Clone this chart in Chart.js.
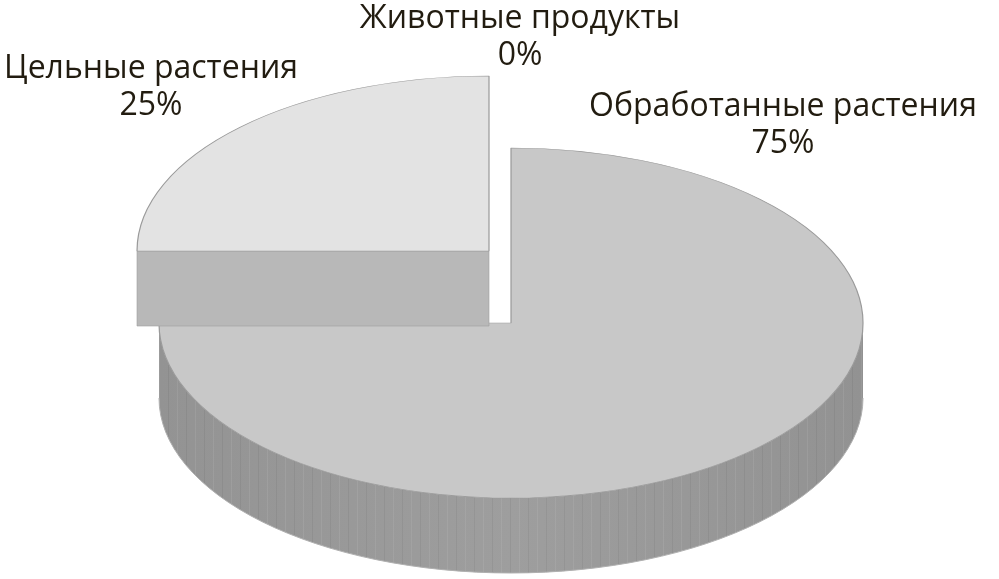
<!DOCTYPE html>
<html lang="ru">
<head>
  <meta charset="UTF-8" />
  <title>Pie 3D</title>
  <script src="https://cdn.jsdelivr.net/npm/chart.js"></script>
  <style>
    body { margin: 0; background: #fff; }
    canvas { display: block; }
  </style>
</head>
<body>
  <canvas id="pieChart" width="999" height="579"></canvas>
  <script>
    // данные
    const labels = ['Животные продукты', 'Обработанные растения', 'Цельные растения'];
    const values = [0, 75, 25];
    const topColors = ['#d0d0d0', '#c8c8c8', '#e3e3e3'];
    const sideColors = ['#a8a8a8', '#9a9a9a', '#b8b8b8'];

    // геометрия "3D" пирога (на экране)
    const geo = { cx: 511, cy: 323, rx: 352, ry: 175, depth: 75 };
    const explode = [[0, 0], [0, 0], [-22, -72]];
    const labelPos = [[520, 28], [783, 116], [151, 78]];
    const lineGap = 37;

    function pt(cx, cy, th) {
      return [cx + geo.rx * Math.cos(th), cy + geo.ry * Math.sin(th)];
    }

    function drawFace(ctx, cx, cy, th, color) {
      const [px, py] = pt(cx, cy, th);
      ctx.beginPath();
      ctx.moveTo(cx, cy);
      ctx.lineTo(px, py);
      ctx.lineTo(px, py + geo.depth);
      ctx.lineTo(cx, cy + geo.depth);
      ctx.closePath();
      ctx.fillStyle = color;
      ctx.fill();
      ctx.strokeStyle = '#a0a0a0';
      ctx.lineWidth = 0.6;
      ctx.stroke();
    }

    function drawWall(ctx, cx, cy, lo, hi) {
      const g = ctx.createLinearGradient(cx - geo.rx, 0, cx + geo.rx, 0);
      g.addColorStop(0, '#939393');
      g.addColorStop(0.5, '#9e9e9e');
      g.addColorStop(1, '#929292');
      ctx.beginPath();
      ctx.ellipse(cx, cy, geo.rx, geo.ry, 0, lo, hi);
      ctx.ellipse(cx, cy + geo.depth, geo.rx, geo.ry, 0, hi, lo, true);
      ctx.closePath();
      ctx.fillStyle = g;
      ctx.fill();
      // лёгкая вертикальная штриховка
      ctx.save();
      ctx.clip();
      ctx.lineWidth = 1;
      for (let x = cx - geo.rx; x < cx + geo.rx; x += 9) {
        ctx.strokeStyle = (Math.round(x) % 2) ? 'rgba(255,255,255,0.08)' : 'rgba(0,0,0,0.05)';
        ctx.beginPath();
        ctx.moveTo(Math.round(x) + 0.5, cy);
        ctx.lineTo(Math.round(x) + 0.5, cy + geo.ry + geo.depth);
        ctx.stroke();
      }
      ctx.restore();
      ctx.beginPath();
      ctx.ellipse(cx, cy + geo.depth, geo.rx, geo.ry, 0, lo, hi);
      ctx.strokeStyle = '#b0b0b0';
      ctx.lineWidth = 1;
      ctx.stroke();
    }

    const pie3d = {
      id: 'pie3d',
      beforeDatasetsDraw(chart) {
        const ctx = chart.ctx;
        const arcs = chart.getDatasetMeta(0).data;
        const order = arcs.map((a, i) => i)
          .sort((i, j) => (explode[i][1] !== 0) - (explode[j][1] !== 0));
        order.forEach(i => {
          const arc = arcs[i];
          const p = arc.getProps(['x', 'y', 'startAngle', 'endAngle', 'outerRadius']);
          if (p.endAngle - p.startAngle <= 0) return;
          const cx = geo.cx + explode[i][0];
          const cy = geo.cy + explode[i][1];
          // боковая стенка (передняя половина)
          for (let k = -1; k <= 1; k++) {
            const lo = Math.max(p.startAngle, 2 * Math.PI * k);
            const hi = Math.min(p.endAngle, 2 * Math.PI * k + Math.PI);
            if (hi > lo) drawWall(ctx, cx, cy, lo, hi);
          }
          // срезы
          if (Math.cos(p.startAngle) < -1e-6) drawFace(ctx, cx, cy, p.startAngle, sideColors[i]);
          if (Math.cos(p.endAngle) > 1e-6) drawFace(ctx, cx, cy, p.endAngle, sideColors[i]);
          // верх сектора
          ctx.save();
          ctx.translate(cx, cy);
          ctx.scale(geo.rx / p.outerRadius, geo.ry / p.outerRadius);
          ctx.translate(-p.x, -p.y);
          arc.draw(ctx);
          ctx.restore();
        });
        return false;
      },
      afterDraw(chart) {
        const ctx = chart.ctx;
        const total = values.reduce((s, v) => s + v, 0);
        ctx.save();
        ctx.fillStyle = '#221c10';
        ctx.font = '32px "Open Sans"';
        ctx.textAlign = 'center';
        ctx.textBaseline = 'alphabetic';
        chart.data.labels.forEach((lab, i) => {
          const [x, y] = labelPos[i];
          ctx.fillText(lab, x, y);
          ctx.fillText(Math.round(values[i] / total * 100) + '%', x, y + lineGap);
        });
        ctx.restore();
      }
    };

    const ctx = document.getElementById('pieChart').getContext('2d');
    new Chart(ctx, {
      type: 'pie',
      data: {
        labels: labels,
        datasets: [{
          data: values,
          backgroundColor: topColors,
          borderColor: '#9a9a9a',
          borderWidth: 1
        }]
      },
      options: {
        responsive: false,
        animation: false,
        plugins: {
          legend: { display: false },
          tooltip: { enabled: false }
        }
      },
      plugins: [pie3d]
    });
  </script>
</body>
</html>
